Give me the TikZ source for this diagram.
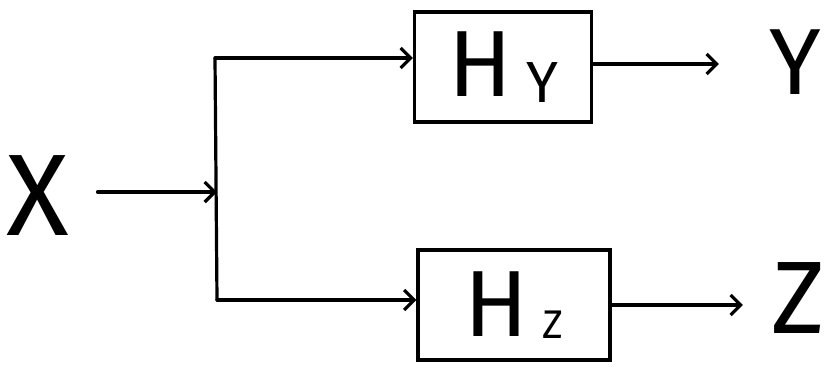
\documentclass[tikz,border=0pt]{standalone}
\usepackage{fontspec}
\setmainfont{Fira Sans}
\usetikzlibrary{arrows.meta}
\begin{document}
\begin{tikzpicture}[x=1pt,y=-1pt,
  wire/.style={line width=3.2pt, line cap=round, line join=round},
  arr/.style={wire, -{Straight Barb[length=10pt,width=20pt,line width=3.2pt]}},
  block/.style={draw, line width=3.2pt, rectangle, inner sep=0pt},
  lbl/.style={inner sep=0pt, font=\fontsize{100}{100}\selectfont}]
\useasboundingbox (0,0) rectangle (834,370);
% labels
\node[lbl, font=\fontsize{116}{116}\selectfont] (x) at (38,196) {X};
\node[lbl, font=\fontsize{94}{94}\selectfont] (y) at (795,62) {Y};
\node[lbl, font=\fontsize{103}{103}\selectfont] (z) at (798,298) {Z};
% blocks
\node[block, minimum width=177pt, minimum height=110pt] (hy) at (503,67)
  {\fontsize{94}{94}\selectfont H\hspace{14pt}\raisebox{-6pt}{\fontsize{58}{58}\selectfont Y}};
\node[block, minimum width=192pt, minimum height=110pt] (hz) at (514,305)
  {\fontsize{94}{94}\selectfont H\hspace{14pt}\raisebox{-2pt}{\fontsize{40}{40}\selectfont Z}};
% junction
\coordinate (j) at (217,192);
\coordinate (jt) at (215,58);
\coordinate (jb) at (217,300);
\draw[arr, shorten <=28pt] (x.east |- j) -- (j);
\draw[wire] (jt) -- (jb);
\draw[arr] (jt) -- (jt -| hy.west);
\draw[arr] (jb) -- (jb -| hz.west);
\draw[arr] (hy.east |- 0,64) -- ([xshift=-50pt]y.west |- 0,64);
\draw[arr] (hz.east |- 0,305) -- ([xshift=-28pt]z.west |- 0,305);
\end{tikzpicture}
\end{document}
